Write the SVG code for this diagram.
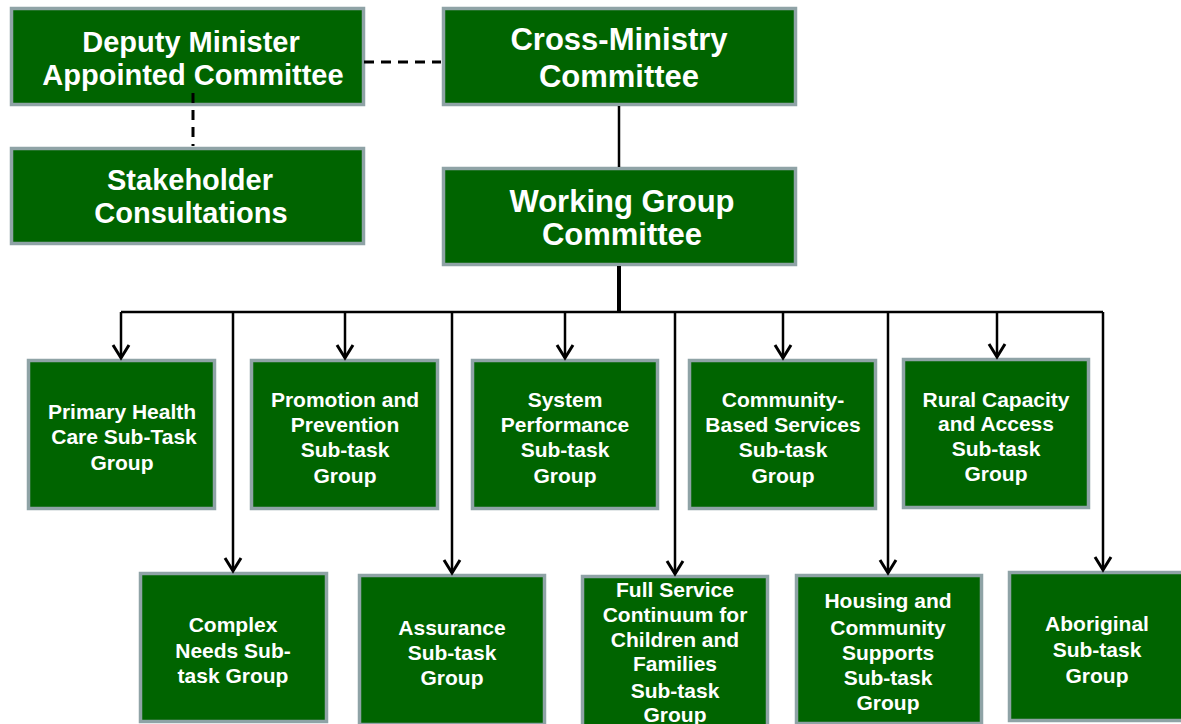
<svg xmlns="http://www.w3.org/2000/svg" width="1181" height="724" viewBox="0 0 1181 724">
<defs>
<style>
.box{fill:#006400;stroke:#8FA3A6;stroke-width:3.5}
.big{font-family:"Liberation Sans",Arial,sans-serif;font-weight:bold;fill:#fff;font-size:29px;text-anchor:middle}
.big2{font-family:"Liberation Sans",Arial,sans-serif;font-weight:bold;fill:#fff;font-size:31px;text-anchor:middle}
.sm{font-family:"Liberation Sans",Arial,sans-serif;font-weight:bold;fill:#fff;font-size:21px;text-anchor:middle}
.ln{stroke:#000;stroke-width:2.5;fill:none}
.dash{stroke:#000;stroke-width:3;fill:none;stroke-dasharray:10 7}
</style>
<marker id="arr" markerUnits="userSpaceOnUse" orient="auto" refX="0" refY="0" overflow="visible" markerWidth="20" markerHeight="20">
<path d="M-13,-8 L0,0 L-13,8" stroke="#000" stroke-width="3" fill="none"/>
</marker>
</defs>
<rect width="1181" height="724" fill="#fff"/>
<g id="deputy">
<rect class="box" x="11.5" y="8.5" width="352" height="96"/>
<text class="big" x="191" y="52">Deputy Minister</text>
<text class="big" x="193" y="85">Appointed Committee</text>
</g>
<g id="stakeholder">
<rect class="box" x="11.5" y="148.5" width="352" height="95"/>
<text class="big" x="190" y="190">Stakeholder</text>
<text class="big" x="191" y="223">Consultations</text>
</g>
<g id="cross">
<rect class="box" x="443.5" y="8.5" width="352" height="96"/>
<text class="big2" x="619" y="50">Cross-Ministry</text>
<text class="big2" x="619" y="87">Committee</text>
</g>
<g id="working">
<rect class="box" x="443.5" y="168.5" width="352" height="96"/>
<text class="big2" x="622" y="212">Working Group</text>
<text class="big2" x="622" y="245">Committee</text>
</g>
<g id="primary">
<rect class="box" x="28.5" y="360.5" width="186" height="148"/>
<text class="sm" x="122" y="419">Primary Health</text>
<text class="sm" x="124" y="444">Care Sub-Task</text>
<text class="sm" x="122" y="470">Group</text>
</g>
<g id="promotion">
<rect class="box" x="251.5" y="360.5" width="186" height="148"/>
<text class="sm" x="345" y="407">Promotion and</text>
<text class="sm" x="345" y="432">Prevention</text>
<text class="sm" x="345" y="457">Sub-task</text>
<text class="sm" x="345" y="483">Group</text>
</g>
<g id="system">
<rect class="box" x="472.5" y="360.5" width="185" height="148"/>
<text class="sm" x="565" y="407">System</text>
<text class="sm" x="565" y="432">Performance</text>
<text class="sm" x="565" y="457">Sub-task</text>
<text class="sm" x="565" y="483">Group</text>
</g>
<g id="community">
<rect class="box" x="689.5" y="360.5" width="186" height="148"/>
<text class="sm" x="783" y="407">Community-</text>
<text class="sm" x="783" y="432">Based Services</text>
<text class="sm" x="783" y="457">Sub-task</text>
<text class="sm" x="783" y="483">Group</text>
</g>
<g id="rural">
<rect class="box" x="903.5" y="359.5" width="185" height="148"/>
<text class="sm" x="996" y="407">Rural Capacity</text>
<text class="sm" x="996" y="431">and Access</text>
<text class="sm" x="996" y="456">Sub-task</text>
<text class="sm" x="996" y="481">Group</text>
</g>
<g id="complex">
<rect class="box" x="140.5" y="573.5" width="186" height="148"/>
<text class="sm" x="233" y="632">Complex</text>
<text class="sm" x="233" y="658">Needs Sub-</text>
<text class="sm" x="233" y="683">task Group</text>
</g>
<g id="assurance">
<rect class="box" x="359.5" y="575.5" width="185" height="149"/>
<text class="sm" x="452" y="635">Assurance</text>
<text class="sm" x="452" y="660">Sub-task</text>
<text class="sm" x="452" y="685">Group</text>
</g>
<g id="fullservice">
<rect class="box" x="582.5" y="576.5" width="185" height="154"/>
<text class="sm" x="675" y="597">Full Service</text>
<text class="sm" x="675" y="622">Continuum for</text>
<text class="sm" x="675" y="647">Children and</text>
<text class="sm" x="675" y="671">Families</text>
<text class="sm" x="675" y="698">Sub-task</text>
<text class="sm" x="675" y="722">Group</text>
</g>
<g id="housing">
<rect class="box" x="796.5" y="575.5" width="185" height="148"/>
<text class="sm" x="888" y="608">Housing and</text>
<text class="sm" x="888" y="635">Community</text>
<text class="sm" x="888" y="660">Supports</text>
<text class="sm" x="888" y="685">Sub-task</text>
<text class="sm" x="888" y="710">Group</text>
</g>
<g id="aboriginal">
<rect class="box" x="1009.5" y="572.5" width="180" height="148"/>
<text class="sm" x="1097" y="631">Aboriginal</text>
<text class="sm" x="1097" y="657">Sub-task</text>
<text class="sm" x="1097" y="683">Group</text>
</g>
<g id="connectors">
<line class="dash" x1="364" y1="62" x2="441" y2="62"/>
<line class="dash" x1="193" y1="93" x2="193" y2="146"/>
<line class="ln" x1="619" y1="106" x2="619" y2="167"/>
<line x1="619" y1="266" x2="619" y2="313" stroke="#000" stroke-width="4"/>
<polyline class="ln" points="121,312 1103,312" stroke-width="3"/>
<line class="ln" x1="121" y1="312" x2="121" y2="358" marker-end="url(#arr)"/>
<line class="ln" x1="345" y1="312" x2="345" y2="358" marker-end="url(#arr)"/>
<line class="ln" x1="565" y1="312" x2="565" y2="358" marker-end="url(#arr)"/>
<line class="ln" x1="783" y1="312" x2="783" y2="358" marker-end="url(#arr)"/>
<line class="ln" x1="997" y1="312" x2="997" y2="357" marker-end="url(#arr)"/>
<line class="ln" x1="233" y1="312" x2="233" y2="571" marker-end="url(#arr)"/>
<line class="ln" x1="452" y1="312" x2="452" y2="573" marker-end="url(#arr)"/>
<line class="ln" x1="675" y1="312" x2="675" y2="574" marker-end="url(#arr)"/>
<line class="ln" x1="888" y1="312" x2="888" y2="573" marker-end="url(#arr)"/>
<line class="ln" x1="1103" y1="312" x2="1103" y2="570" marker-end="url(#arr)"/>
</g>
</svg>
